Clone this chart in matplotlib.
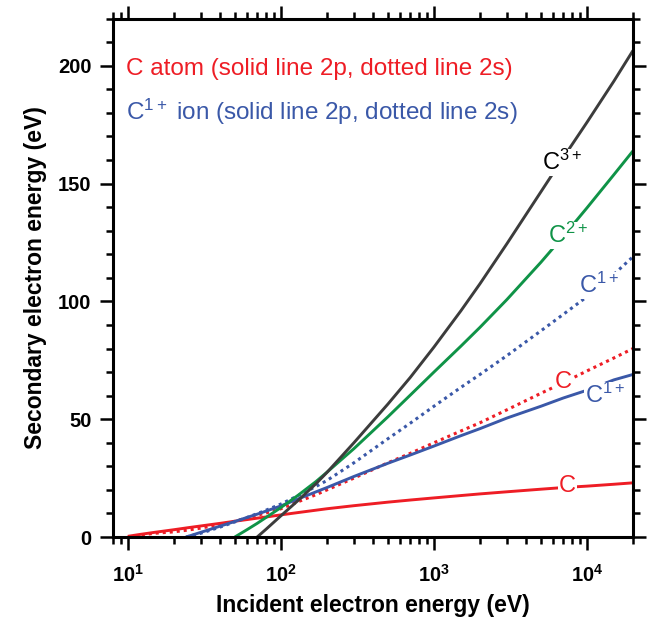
import matplotlib
matplotlib.use("Agg")
import matplotlib.pyplot as plt
from matplotlib.ticker import FixedLocator, LogLocator, MultipleLocator, NullFormatter

plt.rcParams['font.family'] = ['Liberation Sans', 'DejaVu Sans']
plt.rcParams['mathtext.fontset'] = 'custom'
plt.rcParams['mathtext.rm'] = 'Liberation Sans'
plt.rcParams['mathtext.it'] = 'Liberation Sans:italic'
plt.rcParams['mathtext.bf'] = 'Liberation Sans:bold'

# incident energy grids (eV) and secondary electron energies (eV)
c_E = [10, 12, 15, 20, 25, 30, 40, 50, 60, 70, 80, 100, 130, 170, 200, 300,
       500, 700, 1000, 1500, 2000, 3000, 5000, 7000, 10000, 15000, 20000]
c_2p = [0.3, 1.1, 2.0, 3.1, 4.0, 4.7, 5.8, 6.7, 7.4, 8.0, 8.5, 9.4, 10.4, 11.4, 12.0, 13.3,
        14.8, 15.7, 16.6, 17.6, 18.3, 19.2, 20.3, 21.0, 21.6, 22.4, 23.0]
c_2s = [0.0, 0.8, 1.6, 2.2, 3.0, 3.8, 5.3, 6.7, 8.0, 9.2, 10.2, 12.0, 15.0, 18.0, 20.0, 25.0,
        31.5, 35.5, 40.0, 45.0, 48.5, 54.0, 61.0, 65.5, 70.5, 76.0, 80.0]

c1_E = [24, 30, 40, 50, 60, 70, 80, 100, 130, 170, 200, 300, 500, 700, 1000,
        1500, 2000, 3000, 5000, 7000, 10000, 15000, 20000]
c1_2p = [0.0, 2.0, 4.6, 6.6, 8.3, 9.7, 11.0, 13.2, 16.2, 19.2, 21.0, 25.7, 31.3, 34.8, 38.6,
         43.0, 46.0, 50.5, 55.5, 59.0, 62.3, 66.7, 69.0]
c1_2s = [0.0, 1.6, 4.2, 6.4, 8.3, 9.9, 11.4, 14.0, 17.6, 21.5, 24.0, 31.5, 41.7, 48.3, 55.5,
         63.5, 69.0, 77.0, 87.5, 94.5, 102.0, 111.5, 119.0]

c2_E = [50, 60, 70, 80, 100, 130, 170, 200, 300, 500, 700, 1000, 1500, 2000, 3000,
        5000, 7000, 10000, 15000, 20000]
c2_2p = [0.0, 3.1, 5.8, 8.3, 12.5, 17.8, 23.6, 27.5, 37.5, 51.0, 60.2, 70.0, 81.0, 89.0, 100.8,
         116.6, 127.6, 139.7, 153.8, 163.9]

c3_E = [70, 80, 100, 130, 170, 200, 300, 500, 700, 1000, 1500, 2000, 3000,
        5000, 7000, 10000, 15000, 20000]
c3_2p = [0.0, 3.3, 9.0, 15.6, 22.7, 27.4, 40.0, 56.4, 67.7, 80.6, 96.0, 107.5, 124.5,
         146.5, 161.0, 176.0, 193.5, 206.5]

xticks = [10, 100, 1000, 10000]
xticklabels = [r'$\mathbf{10^{1}}$', r'$\mathbf{10^{2}}$', r'$\mathbf{10^{3}}$', r'$\mathbf{10^{4}}$']

red = '#ee1d25'
blue = '#3a58a8'
green = '#0f9347'
dark = '#3c3c3c'

fig = plt.figure(figsize=(6.57, 6.23), dpi=100)
ax = fig.add_axes([0.172, 0.138, 0.7915, 0.832])

lw = 2.1
dots = (0, (1.0, 1.3))
ax.plot(c_E, c_2p, color=red, lw=lw, solid_capstyle='butt')
ax.plot(c_E, c_2s, color=red, lw=2.2, linestyle=dots)
ax.plot(c1_E, c1_2p, color=blue, lw=lw, solid_capstyle='butt')
ax.plot(c1_E, c1_2s, color=blue, lw=2.2, linestyle=dots)
ax.plot(c2_E, c2_2p, color=green, lw=lw, solid_capstyle='butt')
ax.plot(c3_E, c3_2p, color=dark, lw=lw, solid_capstyle='butt')

# curve labels, white box cuts the line underneath
box = dict(facecolor='white', edgecolor='none', pad=0.5)
lab = dict(fontsize=17, ha='center', va='center', bbox=box)
ax.text(7460, 21.7, 'C', color=red, **lab)
ax.text(7030, 65.9, 'C', color=red, **lab)
ax.text(13060, 60, r'C$^{1+}$', color=blue, **lab)
ax.text(11940, 106.7, r'C$^{1+}$', color=blue, **lab)
ax.text(7480, 128, r'C$^{2+}$', color=green, **lab)
ax.text(6920, 159, r'C$^{3+}$', color='black', **lab)

ax.text(0.025, 0.902, 'C atom (solid line 2p, dotted line 2s)', color=red,
        fontsize=17.5, transform=ax.transAxes, va='center')
ax.text(0.025, 0.82, r'C$^{1+}$ ion (solid line 2p, dotted line 2s)', color=blue,
        fontsize=17.5, transform=ax.transAxes, va='center')

ax.set_xscale('log')
ax.set_xlim(8, 20000)
ax.set_ylim(0, 220)

ax.xaxis.set_major_locator(FixedLocator(xticks))
ax.set_xticklabels(xticklabels)
ax.xaxis.set_minor_locator(LogLocator(base=10, subs=range(2, 10), numticks=20))
ax.xaxis.set_minor_formatter(NullFormatter())
ax.yaxis.set_major_locator(MultipleLocator(50))
ax.yaxis.set_minor_locator(MultipleLocator(10))

for s in ax.spines.values():
    s.set_linewidth(2.2)
ax.tick_params(which='both', direction='out', top=True, right=True, width=1.8)
ax.tick_params(which='major', length=9.5, labelsize=14.5, pad=6)
ax.tick_params(which='minor', length=5)
ax.tick_params(axis='x', which='major', pad=10)
for t in ax.get_yticklabels():
    t.set_fontweight('bold')

ax.set_xlabel('Incident electron energy (eV)', fontsize=16.5, fontweight='bold', labelpad=6)
ax.set_ylabel('Secondary electron energy (eV)', fontsize=16.5, fontweight='bold', labelpad=8)

fig.savefig('out.png', dpi=100)
